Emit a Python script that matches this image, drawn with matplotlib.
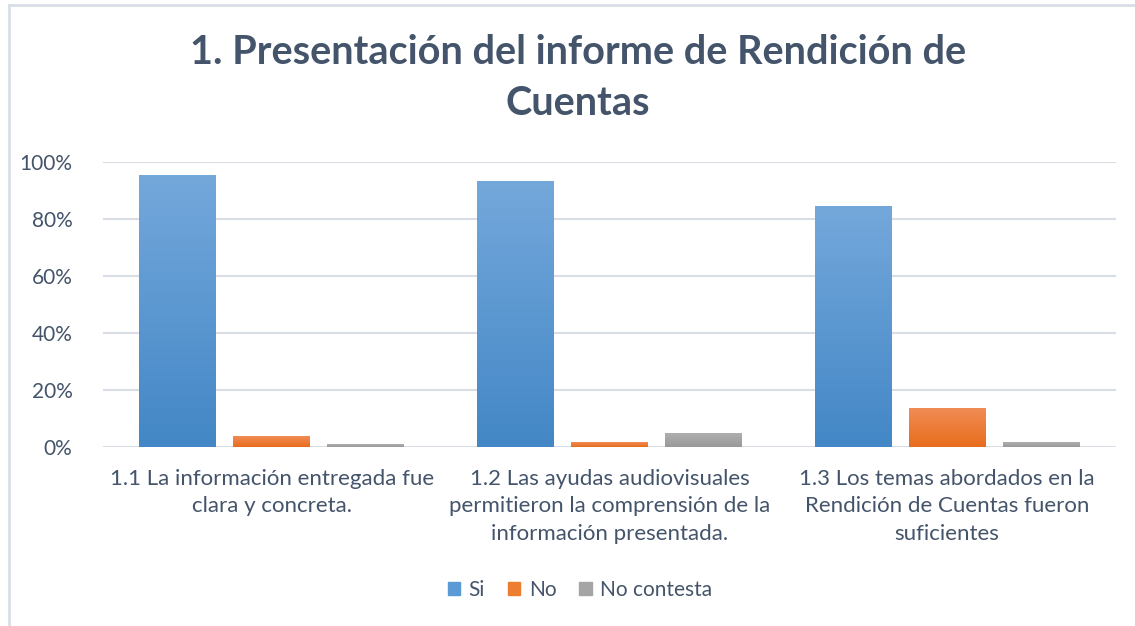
import matplotlib
matplotlib.use("Agg")
import matplotlib.pyplot as plt
import numpy as np
from matplotlib.colors import LinearSegmentedColormap
from matplotlib.patches import Rectangle

plt.rcParams['font.family'] = ['Lato', 'DejaVu Sans']

title = "1. Presentación del informe de Rendición de\nCuentas"
categories = [
    "1.1 La información entregada fue\nclara y concreta.",
    "1.2 Las ayudas audiovisuales\npermitieron la comprensión de la\ninformación presentada.",
    "1.3 Los temas abordados en la\nRendición de Cuentas fueron\nsuficientes",
]
series_names = ["Si", "No", "No contesta"]
si = [95.2, 93.1, 84.4]
no = [3.8, 1.7, 13.6]
no_contesta = [1.0, 4.9, 1.7]
yticks = [0, 20, 40, 60, 80, 100]
ytick_labels = ["0%", "20%", "40%", "60%", "80%", "100%"]

grad_colors = [("#4387C6", "#74A8DB"), ("#E86D1C", "#F08C55"), ("#999999", "#AFAFAF")]
legend_colors = ["#5B9BD5", "#ED7D31", "#A5A5A5"]
text_color = "#44546A"

W, H = 1135, 626
fig = plt.figure(figsize=(W / 100, H / 100), dpi=100)
fig.patch.set_facecolor("white")

# outer border (left and top visible)
fig.add_artist(plt.Line2D([9 / W, 9 / W], [0, 1 - 5 / H], transform=fig.transFigure, color="#D9DEE6", lw=2))
fig.add_artist(plt.Line2D([9 / W, 1], [1 - 5 / H, 1 - 5 / H], transform=fig.transFigure, color="#D9DEE6", lw=2))

ax = fig.add_axes([103 / W, 1 - 447 / H, (1116 - 103) / W, (447 - 162) / H])

width = 0.228
offs = [-0.278, 0.0, 0.278]
x = np.arange(len(categories))
data = [si, no, no_contesta]
for s, (vals, (c0, c1)) in enumerate(zip(data, grad_colors)):
    cmap = LinearSegmentedColormap.from_list("g%d" % s, [c0, c1])
    bars = ax.bar(x + offs[s], vals, width=width, color=legend_colors[s], zorder=2, label=series_names[s])
    for b in bars:
        b.set_alpha(0)
        xx, yy = b.get_x(), b.get_height()
        grad = np.linspace(0, 1, 256).reshape(-1, 1)
        ax.imshow(grad, cmap=cmap, origin="lower", aspect="auto",
                  extent=[xx, xx + width, 0, yy], zorder=3)

ax.set_xlim(-0.5, len(categories) - 0.5)
ax.set_ylim(0, 100)

ax.set_yticks(yticks)
ax.set_yticklabels(ytick_labels)
ax.yaxis.grid(True, color="#D9DEE6", lw=1.5, zorder=0)
ax.set_axisbelow(True)
ax.set_xticks(x)
ax.set_xticklabels(categories, linespacing=1.45)
for sp in ax.spines.values():
    sp.set_visible(False)
ax.tick_params(axis="y", length=0, labelsize=15, colors=text_color, pad=22)
ax.tick_params(axis="x", length=0, labelsize=16, colors=text_color, pad=16)

fig.text(578 / W, 1 - 78 / H, title, ha="center", va="center", fontsize=28.5,
         fontweight="bold", color=text_color, linespacing=1.45)

handles = [Rectangle((0, 0), 1, 1, color=c) for c in legend_colors]
leg = fig.legend(handles, series_names, loc="center", bbox_to_anchor=(580 / W, 1 - 590 / H),
                 ncol=3, frameon=False, fontsize=15, handlelength=0.6, handleheight=0.6,
                 handletextpad=0.4, columnspacing=1.1)
for t in leg.get_texts():
    t.set_color(text_color)

fig.savefig("out.png", dpi=100, facecolor="white")
